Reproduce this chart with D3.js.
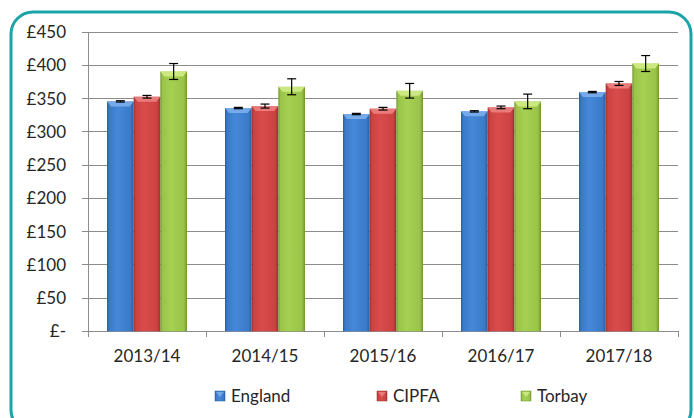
<!DOCTYPE html>
<html><head><meta charset="utf-8">
<script src="https://cdn.jsdelivr.net/npm/d3@7"></script>
<style>body{margin:0;background:#fff;}svg{display:block;font-family:Lato,"Open Sans",sans-serif;}</style>
</head><body><svg id="c" width="694" height="418"></svg>
<script>
const categories = ["2013/14","2014/15","2015/16","2016/17","2017/18"];
const seriesNames = ["England","CIPFA","Torbay"];
const england = [346, 336, 327, 331, 360];
const cipfa = [353, 339, 335, 337, 373];
const torbay = [391, 368, 362, 346, 403];
const englandErr = [1, 1, 1, 1, 1];
const cipfaErr = [2, 3, 2, 2, 3];
const torbayErr = [12, 12, 11, 11, 12];
const yTicks = [0,50,100,150,200,250,300,350,400,450];
const tickLabels = ["£-","£50","£100","£150","£200","£250","£300","£350","£400","£450"];

(function(){
const values = [england, cipfa, torbay];
const errs = [englandErr, cipfaErr, torbayErr];
const colors = [
  {base:"#3b79c9", dark:"#2b5c9c", light:"#4688d8", top:"#7fb2ee"},
  {base:"#cc4141", dark:"#9c3030", light:"#d84c4c", top:"#ef8585"},
  {base:"#9ac448", dark:"#739434", light:"#a6d052", top:"#d3ef8a"}
];

const svg = d3.select("#c");
const defs = svg.append("defs");
colors.forEach((c,i)=>{
  const g = defs.append("linearGradient").attr("id","g"+i).attr("x1","0").attr("x2","1").attr("y1","0").attr("y2","0");
  g.append("stop").attr("offset","0").attr("stop-color",c.dark);
  g.append("stop").attr("offset","0.08").attr("stop-color",c.base);
  g.append("stop").attr("offset","0.4").attr("stop-color",c.light);
  g.append("stop").attr("offset","0.88").attr("stop-color",c.base);
  g.append("stop").attr("offset","1").attr("stop-color",c.dark);
});

svg.append("rect").attr("x",11).attr("y",12).attr("width",680).attr("height",420)
  .attr("rx",22).attr("fill","none").attr("stroke","#1aa3a8").attr("stroke-width",3);

const pLeft = 88, pRight = 678, pTop = 32.3, pBottom = 331.3;
const y = d3.scaleLinear().domain([0,450]).range([pBottom, pTop]);
const x0 = d3.scaleBand().domain(categories).range([pLeft, pRight]).paddingInner(0.322).paddingOuter(0.161);
const x1 = d3.scaleBand().domain(seriesNames).range([0, x0.bandwidth()]);

svg.append("g").selectAll("line").data(yTicks).join("line")
  .attr("x1", pLeft-6).attr("x2", pRight).attr("y1", d=>y(d)).attr("y2", d=>y(d))
  .attr("stroke","#8c8c8c").attr("stroke-width",1).attr("shape-rendering","crispEdges");

svg.append("line").attr("x1",pLeft).attr("x2",pLeft).attr("y1",pTop).attr("y2",pBottom)
  .attr("stroke","#8c8c8c").attr("shape-rendering","crispEdges");

svg.append("g").selectAll("text").data(yTicks).join("text")
  .attr("x", 66).attr("y", d=>y(d)).attr("dy","0.35em").attr("text-anchor","end")
  .attr("font-size",17).attr("fill","#262626").text((d,i)=>tickLabels[i]);

const step = (pRight-pLeft)/categories.length;
const bounds = d3.range(categories.length+1).map(i=>pLeft+i*step);
svg.append("g").selectAll("line").data(bounds).join("line")
  .attr("x1",d=>d).attr("x2",d=>d).attr("y1",pBottom).attr("y2",pBottom+6)
  .attr("stroke","#8c8c8c").attr("shape-rendering","crispEdges");
svg.append("line").attr("x1",pLeft).attr("x2",pRight).attr("y1",pBottom).attr("y2",pBottom)
  .attr("stroke","#8c8c8c").attr("shape-rendering","crispEdges");

svg.append("g").selectAll("text").data(categories).join("text")
  .attr("x", d=>x0(d)+x0.bandwidth()/2).attr("y", 362).attr("text-anchor","middle")
  .attr("font-size",17).attr("fill","#262626").text(d=>d);

seriesNames.forEach((s,si)=>{
  const g = svg.append("g");
  const data = categories.map((c,ci)=>({c, v: values[si][ci], e: errs[si][ci]}));
  g.selectAll("rect.bar").data(data).join("rect").attr("class","bar")
    .attr("x", d=>x0(d.c)+x1(s)).attr("width", x1.bandwidth())
    .attr("y", d=>y(d.v)).attr("height", d=>y(0)-y(d.v))
    .attr("fill","url(#g"+si+")");
  g.selectAll("path.bev").data(data).join("path").attr("class","bev")
    .attr("d", d=>{
      const xa = x0(d.c)+x1(s), w = x1.bandwidth(), yt = y(d.v);
      return `M${xa},${yt}L${xa+w},${yt}L${xa+w-4},${yt+5}L${xa+4},${yt+5}Z`;
    }).attr("fill", colors[si].top).attr("opacity",0.85);
  const eg = g.selectAll("g.err").data(data).join("g").attr("class","err");
  const cx = d=>x0(d.c)+x1(s)+x1.bandwidth()/2;
  eg.append("line").attr("x1",cx).attr("x2",cx).attr("y1",d=>y(d.v+d.e)).attr("y2",d=>y(d.v-d.e))
    .attr("stroke","#000").attr("stroke-width",1.2);
  eg.append("line").attr("x1",d=>cx(d)-4.5).attr("x2",d=>cx(d)+4.5).attr("y1",d=>y(d.v+d.e)).attr("y2",d=>y(d.v+d.e))
    .attr("stroke","#000").attr("stroke-width",1.2);
  eg.append("line").attr("x1",d=>cx(d)-4.5).attr("x2",d=>cx(d)+4.5).attr("y1",d=>y(d.v-d.e)).attr("y2",d=>y(d.v-d.e))
    .attr("stroke","#000").attr("stroke-width",1.2);
});

const legX = [215, 377, 521];
const lg = svg.append("g");
seriesNames.forEach((s,i)=>{
  lg.append("rect").attr("x",legX[i]).attr("y",391).attr("width",10).attr("height",10)
    .attr("fill","url(#g"+i+")").attr("stroke",colors[i].dark).attr("stroke-width",0.5);
  lg.append("path").attr("d",`M${legX[i]+1},${392}L${legX[i]+9},${392}L${legX[i]+5},${397}Z`)
    .attr("fill",colors[i].top).attr("opacity",0.8);
  lg.append("text").attr("x",legX[i]+16).attr("y",396).attr("dy","0.35em")
    .attr("font-size",17).attr("fill","#262626").text(s);
});
})();
</script></body></html>
